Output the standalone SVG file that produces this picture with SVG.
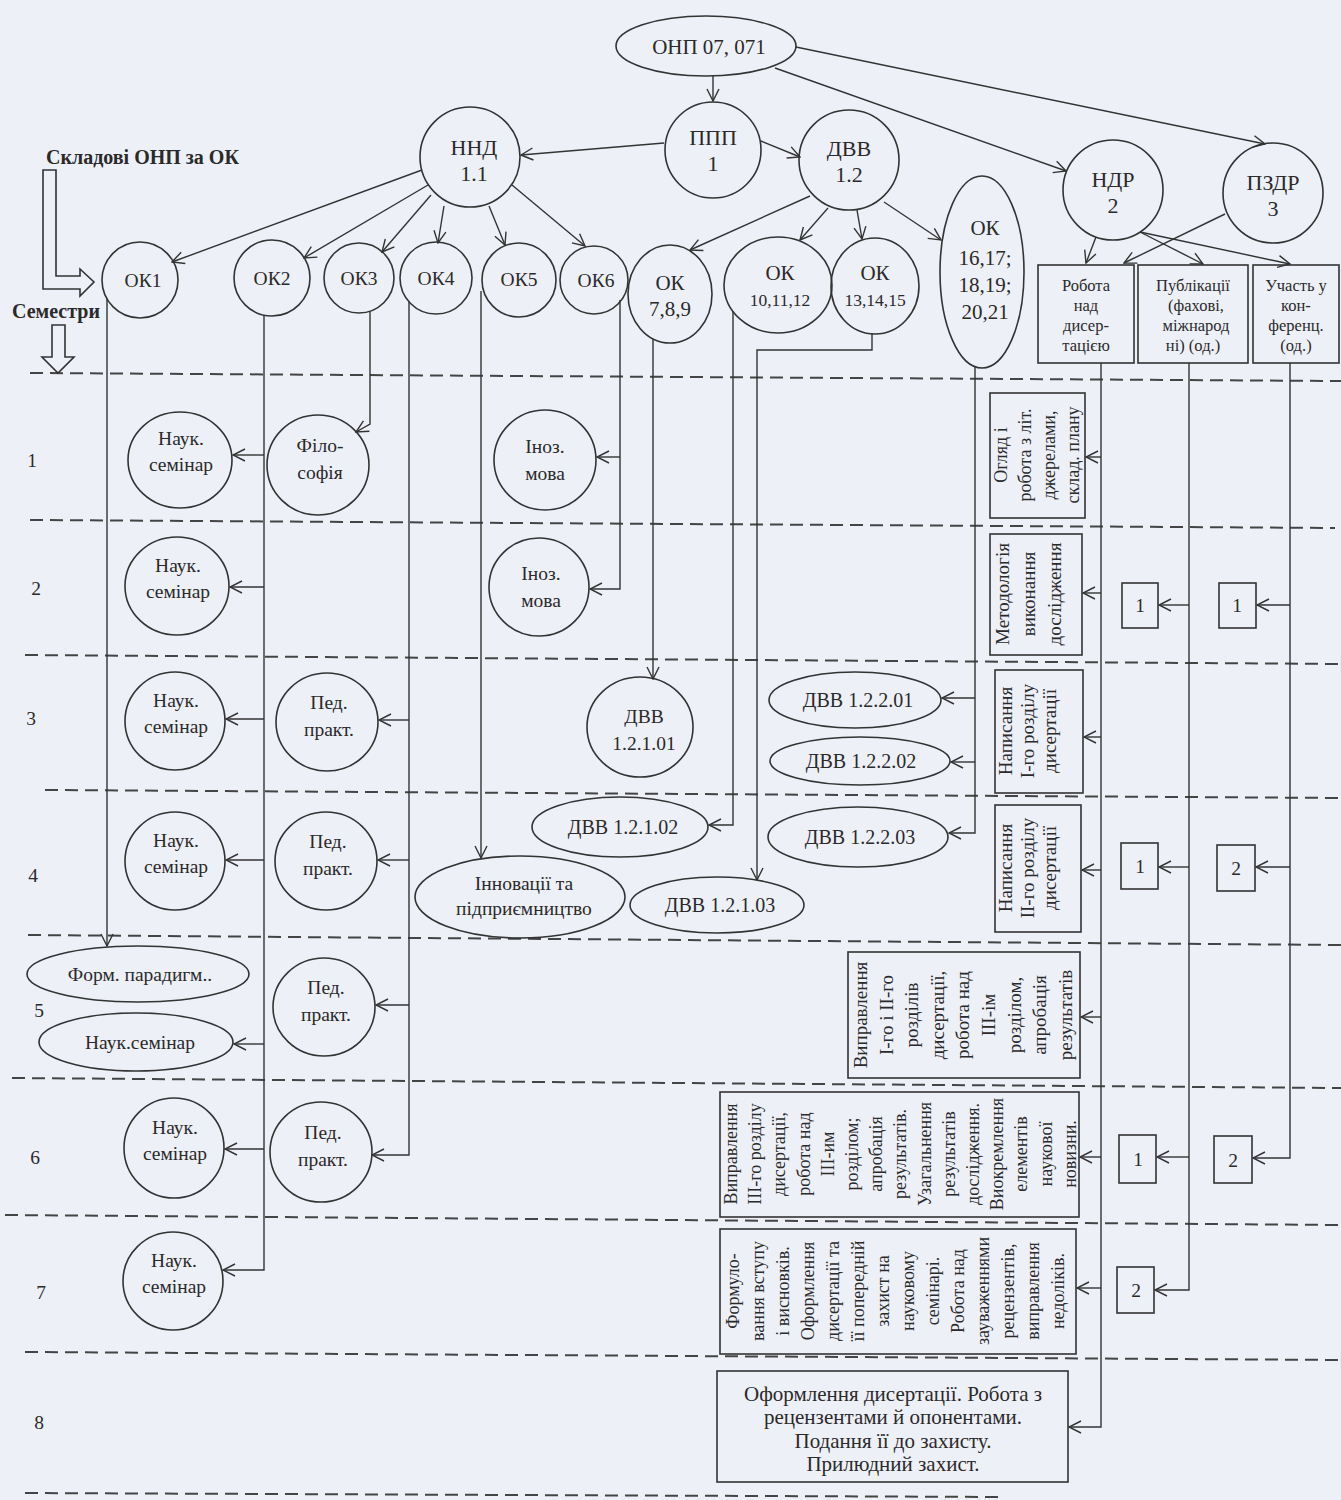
<svg xmlns="http://www.w3.org/2000/svg" width="1341" height="1500" viewBox="0 0 1341 1500">
<defs>
<style>
.bg{fill:#eef0f8}
.n{fill:none;stroke:#333;stroke-width:1.6}
.c{fill:none;stroke:#333;stroke-width:1.4;marker-end:url(#a)}
.d{fill:none;stroke:#444;stroke-width:2;stroke-dasharray:13 7}
text{font-family:"Liberation Serif","Times New Roman",serif;fill:#2a2a2a;font-size:19.5px;text-anchor:middle}
.b{font-weight:bold;text-anchor:start;font-size:20px}
.big{font-size:22px}
.m{font-size:21px}
.s{font-size:17.5px}
.bx{font-size:16.5px}
.e{font-size:20px}
.r{font-size:19px}
.r2{font-size:18px}
</style>
<marker id="a" viewBox="0 0 14 14" refX="13" refY="7" markerWidth="14" markerHeight="14" markerUnits="userSpaceOnUse" orient="auto">
<path d="M1,1 L13,7 L1,13" fill="none" stroke="#333" stroke-width="1.4"/>
</marker>
</defs>
<rect class="bg" x="0" y="0" width="1341" height="1500"/>

<g id="semester-lines">
<line class="d" x1="30" y1="373" x2="1341" y2="381"/>
<line class="d" x1="30" y1="520" x2="1335" y2="528"/>
<line class="d" x1="25" y1="655" x2="1341" y2="664"/>
<line class="d" x1="45" y1="790" x2="1341" y2="798"/>
<line class="d" x1="28" y1="935" x2="1341" y2="945"/>
<line class="d" x1="12" y1="1078" x2="1341" y2="1088"/>
<line class="d" x1="5" y1="1215" x2="1341" y2="1225"/>
<line class="d" x1="25" y1="1352" x2="1341" y2="1360"/>
<line class="d" x1="25" y1="1493" x2="1000" y2="1497"/>
</g>

<g id="legend">
<text class="b" x="46" y="164">Складові ОНП за ОК</text>
<polygon class="n" points="43,170 56,170 56,276 80,276 80,269 94,282 80,296 80,289 43,289"/>
<text class="b" x="12" y="318">Семестри</text>
<polygon class="n" points="52,325 65,325 65,357 74,357 58,373 42,357 52,357"/>
<text x="32" y="467">1</text>
<text x="36" y="595">2</text>
<text x="31" y="725">3</text>
<text x="33" y="882">4</text>
<text x="39" y="1017">5</text>
<text x="35" y="1164">6</text>
<text x="41" y="1299">7</text>
<text x="39" y="1429">8</text>
</g>

<g id="connectors">
<path class="c" d="M713,76 L713,101"/>
<path class="c" d="M775,68 L1066,171"/>
<path class="c" d="M796,47 L1265,144"/>
<path class="c" d="M664,143 L521,155"/>
<path class="c" d="M761,141 L800,157"/>
<path class="c" d="M422,170 L172,262"/>
<path class="c" d="M428,185 L304,258"/>
<path class="c" d="M431,195 L382,252"/>
<path class="c" d="M444,206 L438,243"/>
<path class="c" d="M489,206 L505,245"/>
<path class="c" d="M512,185 L585,246"/>
<path class="c" d="M810,196 L690,250"/>
<path class="c" d="M828,208 L800,240"/>
<path class="c" d="M857,210 L862,239"/>
<path class="c" d="M884,202 L941,240"/>
<path class="c" d="M1096,237 L1086,263"/>
<path class="c" d="M1140,232 L1203,264"/>
<path class="c" d="M1140,232 L1290,264"/>
<path class="c" d="M1225,214 L1124,263"/>

<path class="c" d="M107,299 V946"/>
<path class="c" d="M264,315 V1270 H223"/>
<path class="c" d="M264,455 H233"/>
<path class="c" d="M264,587 H230"/>
<path class="c" d="M264,719 H226"/>
<path class="c" d="M264,860 H226"/>
<path class="c" d="M264,1044 H234"/>
<path class="c" d="M264,1149 H225"/>
<path class="c" d="M370,311 V424 L356,432"/>
<path class="c" d="M409,302 V1155 H372"/>
<path class="c" d="M409,720 H379"/>
<path class="c" d="M409,860 H378"/>
<path class="c" d="M409,1005 H376"/>
<path class="c" d="M481,291 V858"/>
<path class="c" d="M620,300 V589 H590"/>
<path class="c" d="M620,457 H597"/>
<path class="c" d="M653,339 V679"/>
<path class="c" d="M733,311 V825 H709"/>
<path class="c" d="M872,333 V350 H757 V880"/>
<path class="c" d="M975,367 V833 H949"/>
<path class="c" d="M975,698 H942"/>
<path class="c" d="M975,762 H951"/>

<path class="c" d="M1101,363 V1427 H1069"/>
<path class="c" d="M1101,457 H1086"/>
<path class="c" d="M1101,593 H1083"/>
<path class="c" d="M1101,737 H1084"/>
<path class="c" d="M1101,870 H1082"/>
<path class="c" d="M1101,1017 H1081"/>
<path class="c" d="M1101,1157 H1080"/>
<path class="c" d="M1101,1288 H1077"/>
<path class="c" d="M1189,363 V1290 H1155"/>
<path class="c" d="M1189,605 H1159"/>
<path class="c" d="M1189,867 H1159"/>
<path class="c" d="M1189,1157 H1157"/>
<path class="c" d="M1290,363 V1158 H1253"/>
<path class="c" d="M1290,605 H1257"/>
<path class="c" d="M1290,867 H1256"/>
</g>

<g id="onp"><ellipse class="n" cx="706" cy="46" rx="90" ry="30"/><text class="m" x="709" y="54">ОНП 07, 071</text></g>
<g id="ppp"><circle class="n" cx="713" cy="150" r="48"/><text class="big" x="713" y="145">ППП</text><text class="big" x="713" y="171">1</text></g>
<g id="nnd"><circle class="n" cx="470" cy="157" r="50"/><text class="big" x="474" y="155">ННД</text><text class="big" x="474" y="181">1.1</text></g>
<g id="dvv"><circle class="n" cx="849" cy="160" r="50"/><text class="big" x="849" y="156">ДВВ</text><text class="big" x="849" y="182">1.2</text></g>
<g id="ndr"><circle class="n" cx="1113" cy="190" r="50"/><text class="big" x="1113" y="187">НДР</text><text class="big" x="1113" y="213">2</text></g>
<g id="pzdr"><circle class="n" cx="1273" cy="193" r="50"/><text class="big" x="1273" y="190">ПЗДР</text><text class="big" x="1273" y="216">3</text></g>

<g id="ok1"><circle class="n" cx="140" cy="280" r="38"/><text x="143" y="287">ОК1</text></g>
<g id="ok2"><circle class="n" cx="272" cy="278" r="38"/><text x="272" y="285">ОК2</text></g>
<g id="ok3"><circle class="n" cx="359" cy="278" r="35"/><text x="359" y="285">ОК3</text></g>
<g id="ok4"><circle class="n" cx="436" cy="278" r="36"/><text x="436" y="285">ОК4</text></g>
<g id="ok5"><circle class="n" cx="519" cy="280" r="37"/><text x="519" y="286">ОК5</text></g>
<g id="ok6"><circle class="n" cx="594" cy="280" r="34"/><text x="596" y="287">ОК6</text></g>
<g id="ok789"><ellipse class="n" cx="670" cy="294" rx="42" ry="49"/><text class="m" x="670" y="290">ОК</text><text class="m" x="670" y="316">7,8,9</text></g>
<g id="ok101112"><ellipse class="n" cx="778" cy="285" rx="54" ry="48"/><text class="m" x="780" y="280">ОК</text><text class="s" x="780" y="306">10,11,12</text></g>
<g id="ok131415"><ellipse class="n" cx="875" cy="286" rx="44" ry="48"/><text class="m" x="875" y="280">ОК</text><text class="s" x="875" y="306">13,14,15</text></g>
<g id="ok1621"><ellipse class="n" cx="982" cy="272" rx="42" ry="96"/><text class="m" x="985" y="235">ОК</text><text class="m" x="985" y="265">16,17;</text><text class="m" x="985" y="292">18,19;</text><text class="m" x="985" y="319">20,21</text></g>

<g id="box-robota"><rect class="n" x="1038" y="265" width="96" height="98"/><text class="bx" x="1086" y="291">Робота</text><text class="bx" x="1086" y="311">над</text><text class="bx" x="1086" y="331">дисер-</text><text class="bx" x="1086" y="351">тацією</text></g>
<g id="box-publ"><rect class="n" x="1138" y="265" width="110" height="98"/><text class="bx" x="1193" y="291">Публікації</text><text class="bx" x="1196" y="311">(фахові,</text><text class="bx" x="1196" y="331">міжнарод</text><text class="bx" x="1193" y="351">ні) (од.)</text></g>
<g id="box-uchast"><rect class="n" x="1253" y="265" width="86" height="98"/><text class="bx" x="1296" y="291">Участь у</text><text class="bx" x="1296" y="311">кон-</text><text class="bx" x="1296" y="331">ференц.</text><text class="bx" x="1296" y="351">(од.)</text></g>

<g id="s1-nauk"><ellipse class="n" cx="180" cy="460" rx="52" ry="48"/><text x="181" y="445">Наук.</text><text x="181" y="471">семінар</text></g>
<g id="s1-filos"><ellipse class="n" cx="318" cy="465" rx="51" ry="50"/><text x="320" y="452">Філо-</text><text x="320" y="479">софія</text></g>
<g id="s1-inoz"><ellipse class="n" cx="545" cy="460" rx="51" ry="50"/><text x="545" y="453">Іноз.</text><text x="545" y="480">мова</text></g>
<g id="s1-box"><rect class="n" x="990" y="393" width="95" height="125"/><text class="r2" transform="translate(1037,455) rotate(-90)"><tspan x="0" y="-30">Огляд і</tspan><tspan x="0" y="-6">робота з літ.</tspan><tspan x="0" y="18">джерелами,</tspan><tspan x="0" y="42">склад. плану</tspan></text></g>

<g id="s2-nauk"><ellipse class="n" cx="177" cy="586" rx="52" ry="49"/><text x="178" y="572">Наук.</text><text x="178" y="598">семінар</text></g>
<g id="s2-inoz"><ellipse class="n" cx="539" cy="587" rx="50" ry="49"/><text x="541" y="580">Іноз.</text><text x="541" y="607">мова</text></g>
<g id="s2-box"><rect class="n" x="990" y="534" width="92" height="121"/><text class="r" transform="translate(1036,594) rotate(-90)"><tspan x="0" y="-27">Методологія</tspan><tspan x="0" y="-1">виконання</tspan><tspan x="0" y="25">дослідження</tspan></text></g>
<g id="s2-p1"><rect class="n" x="1122" y="583" width="36" height="45"/><text x="1140" y="612">1</text></g>
<g id="s2-u1"><rect class="n" x="1219" y="583" width="37" height="45"/><text x="1237" y="612">1</text></g>

<g id="s3-nauk"><ellipse class="n" cx="175" cy="721" rx="50" ry="49"/><text x="176" y="707">Наук.</text><text x="176" y="733">семінар</text></g>
<g id="s3-ped"><ellipse class="n" cx="327" cy="722" rx="51" ry="49"/><text x="329" y="709">Пед.</text><text x="329" y="736">практ.</text></g>
<g id="s3-dvv1"><ellipse class="n" cx="640" cy="727" rx="53" ry="50"/><text x="644" y="723">ДВВ</text><text x="644" y="750">1.2.1.01</text></g>
<g id="s3-dvv2201"><ellipse class="n" cx="855" cy="700" rx="86" ry="28"/><text class="e" x="858" y="707">ДВВ 1.2.2.01</text></g>
<g id="s3-dvv2202"><ellipse class="n" cx="860" cy="761" rx="90" ry="24"/><text class="e" x="861" y="768">ДВВ 1.2.2.02</text></g>
<g id="s3-box"><rect class="n" x="995" y="670" width="88" height="123"/><text class="r" transform="translate(1039,731) rotate(-90)"><tspan x="0" y="-27">Написання</tspan><tspan x="0" y="-5">I-го розділу</tspan><tspan x="0" y="17">дисертації</tspan></text></g>

<g id="s4-nauk"><ellipse class="n" cx="175" cy="861" rx="50" ry="49"/><text x="176" y="847">Наук.</text><text x="176" y="873">семінар</text></g>
<g id="s4-ped"><ellipse class="n" cx="326" cy="861" rx="51" ry="49"/><text x="328" y="848">Пед.</text><text x="328" y="875">практ.</text></g>
<g id="s4-innov"><ellipse class="n" cx="520" cy="897" rx="105" ry="41"/><text x="524" y="890">Інновації та</text><text x="524" y="915">підприємництво</text></g>
<g id="s4-dvv1202"><ellipse class="n" cx="620" cy="827" rx="88" ry="30"/><text class="e" x="623" y="834">ДВВ 1.2.1.02</text></g>
<g id="s4-dvv1203"><ellipse class="n" cx="717" cy="905" rx="87" ry="28"/><text class="e" x="720" y="912">ДВВ 1.2.1.03</text></g>
<g id="s4-dvv2203"><ellipse class="n" cx="858" cy="837" rx="90" ry="30"/><text class="e" x="860" y="844">ДВВ 1.2.2.03</text></g>
<g id="s4-box"><rect class="n" x="995" y="805" width="86" height="127"/><text class="r" transform="translate(1038,868) rotate(-90)"><tspan x="0" y="-26">Написання</tspan><tspan x="0" y="-4">II-го розділу</tspan><tspan x="0" y="18">дисертації</tspan></text></g>
<g id="s4-p1"><rect class="n" x="1121" y="843" width="37" height="46"/><text x="1140" y="873">1</text></g>
<g id="s4-u2"><rect class="n" x="1217" y="845" width="38" height="46"/><text x="1236" y="875">2</text></g>

<g id="s5-form"><ellipse class="n" cx="138" cy="974" rx="111" ry="28"/><text x="140" y="981">Форм. парадигм..</text></g>
<g id="s5-nauk"><ellipse class="n" cx="136" cy="1042" rx="97" ry="29"/><text x="140" y="1049">Наук.семінар</text></g>
<g id="s5-ped"><ellipse class="n" cx="324" cy="1007" rx="51" ry="49"/><text x="326" y="994">Пед.</text><text x="326" y="1021">практ.</text></g>
<g id="s5-box"><rect class="n" x="848" y="952" width="232" height="126"/><text class="r" transform="translate(964,1015) rotate(-90)"><tspan x="0" y="-97">Виправлення</tspan><tspan x="0" y="-71.4">I-го і II-го</tspan><tspan x="0" y="-45.8">розділів</tspan><tspan x="0" y="-20.2">дисертації,</tspan><tspan x="0" y="5.4">робота над</tspan><tspan x="0" y="31">III-ім</tspan><tspan x="0" y="56.6">розділом,</tspan><tspan x="0" y="82.2">апробація</tspan><tspan x="0" y="107.8">результатів</tspan></text></g>

<g id="s6-nauk"><ellipse class="n" cx="174" cy="1148" rx="50" ry="50"/><text x="175" y="1134">Наук.</text><text x="175" y="1160">семінар</text></g>
<g id="s6-ped"><ellipse class="n" cx="321" cy="1152" rx="51" ry="50"/><text x="323" y="1139">Пед.</text><text x="323" y="1166">практ.</text></g>
<g id="s6-box"><rect class="n" x="720" y="1092" width="359" height="125"/><text class="r2" transform="translate(899,1154) rotate(-90)"><tspan x="0" y="-162">Виправлення</tspan><tspan x="0" y="-137.8">III-го розділу</tspan><tspan x="0" y="-113.6">дисертації,</tspan><tspan x="0" y="-89.4">робота над</tspan><tspan x="0" y="-65.2">III-им</tspan><tspan x="0" y="-41">розділом;</tspan><tspan x="0" y="-16.8">апробація</tspan><tspan x="0" y="7.4">результатів.</tspan><tspan x="0" y="31.6">Узагальнення</tspan><tspan x="0" y="55.8">результатів</tspan><tspan x="0" y="80">дослідження.</tspan><tspan x="0" y="104.2">Виокремлення</tspan><tspan x="0" y="128.4">елементів</tspan><tspan x="0" y="152.6">наукової</tspan><tspan x="0" y="176.8">новизни.</tspan></text></g>
<g id="s6-p1"><rect class="n" x="1119" y="1135" width="37" height="48"/><text x="1138" y="1166">1</text></g>
<g id="s6-u2"><rect class="n" x="1214" y="1136" width="38" height="47"/><text x="1233" y="1167">2</text></g>

<g id="s7-nauk"><ellipse class="n" cx="173" cy="1281" rx="50" ry="49"/><text x="174" y="1267">Наук.</text><text x="174" y="1293">семінар</text></g>
<g id="s7-box"><rect class="n" x="720" y="1229" width="356" height="125"/><text class="r2" transform="translate(898,1291) rotate(-90)"><tspan x="0" y="-159">Формуло-</tspan><tspan x="0" y="-134">вання вступу</tspan><tspan x="0" y="-109">і висновків.</tspan><tspan x="0" y="-84">Оформлення</tspan><tspan x="0" y="-59">дисертації та</tspan><tspan x="0" y="-34">її попередній</tspan><tspan x="0" y="-9">захист на</tspan><tspan x="0" y="16">науковому</tspan><tspan x="0" y="41">семінарі.</tspan><tspan x="0" y="66">Робота над</tspan><tspan x="0" y="91">зауваженнями</tspan><tspan x="0" y="116">рецензентів,</tspan><tspan x="0" y="141">виправлення</tspan><tspan x="0" y="166">недоліків.</tspan></text></g>
<g id="s7-p2"><rect class="n" x="1117" y="1267" width="37" height="46"/><text x="1136" y="1297">2</text></g>

<g id="s8-box"><rect class="n" x="717" y="1371" width="351" height="111"/><text class="m" x="893" y="1401">Оформлення дисертації. Робота з</text><text class="m" x="893" y="1424">рецензентами й опонентами.</text><text class="m" x="893" y="1448">Подання її до захисту.</text><text class="m" x="893" y="1471">Прилюдний захист.</text></g>
</svg>
